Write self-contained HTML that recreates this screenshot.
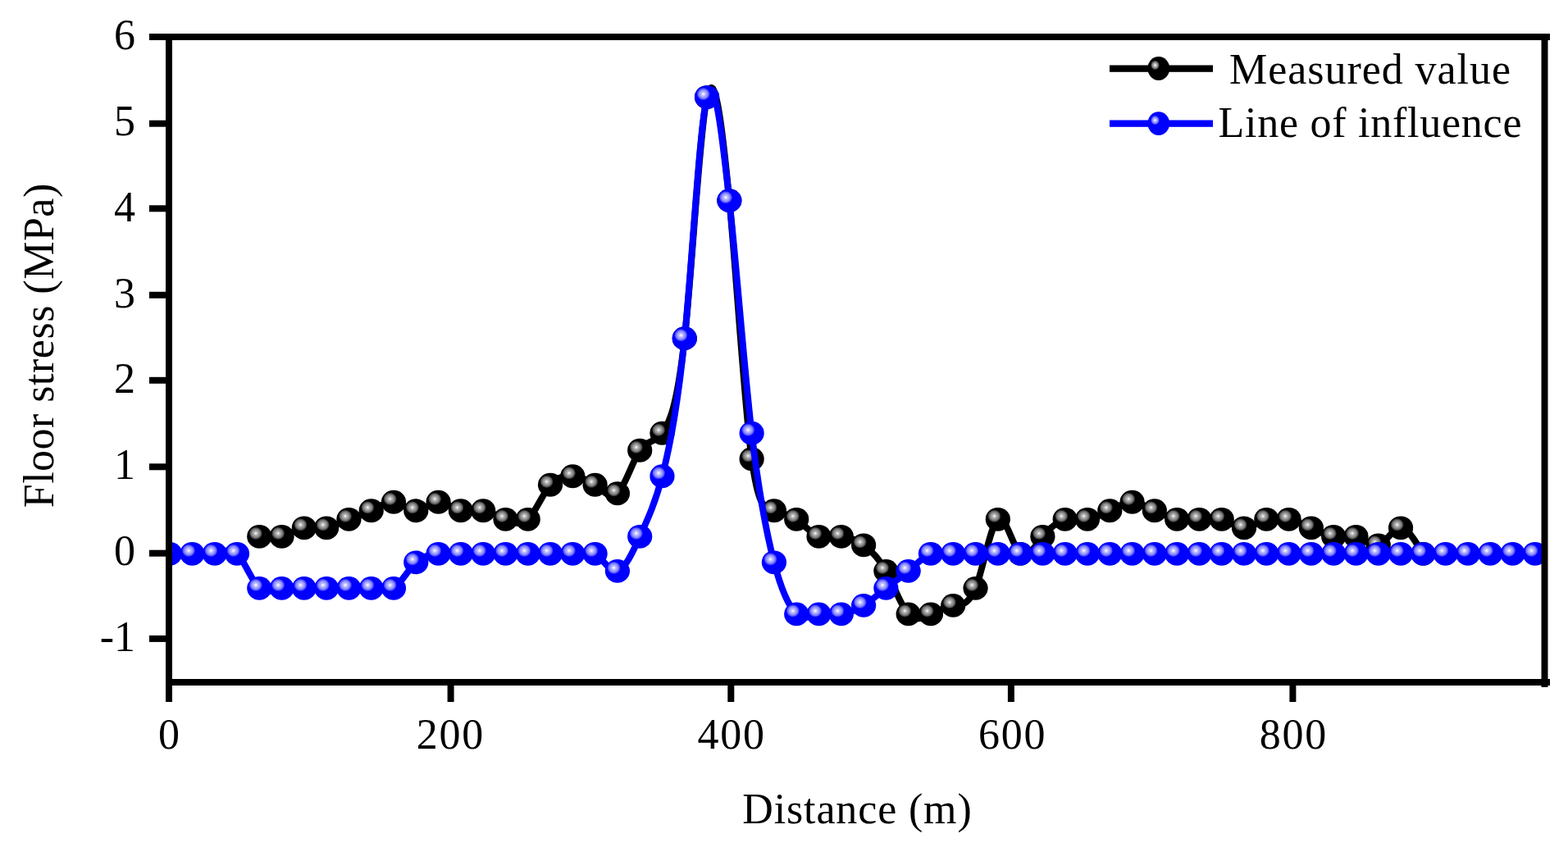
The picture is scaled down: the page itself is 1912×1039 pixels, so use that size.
<!DOCTYPE html>
<html lang="en"><head><meta charset="utf-8"><title>Floor stress vs distance</title>
<style>
html,body{margin:0;padding:0;background:#fff;}
body{width:1912px;height:1039px;overflow:hidden;}
svg{display:block;}
text{font-family:"Liberation Serif","Times New Roman",serif;font-size:52px;fill:#000;}
</style></head><body>
<svg width="1912" height="1039" viewBox="0 0 1912 1039">
<defs>
<radialGradient id="gk" cx="0.355" cy="0.365" r="0.27" gradientUnits="objectBoundingBox">
<stop offset="0" stop-color="#fff"/><stop offset="0.13" stop-color="#dcdcdc"/><stop offset="0.3" stop-color="#b0b0b0"/><stop offset="0.55" stop-color="#8e8e8e"/><stop offset="0.8" stop-color="#5a5a5a"/><stop offset="1" stop-color="#000"/>
</radialGradient>
<radialGradient id="gb" cx="0.355" cy="0.365" r="0.27" gradientUnits="objectBoundingBox">
<stop offset="0" stop-color="#fff"/><stop offset="0.13" stop-color="#e8e8ff"/><stop offset="0.3" stop-color="#bcbcff"/><stop offset="0.55" stop-color="#9a9aff"/><stop offset="0.8" stop-color="#6060ff"/><stop offset="1" stop-color="#00f"/>
</radialGradient>
<radialGradient id="gk2" cx="0.34" cy="0.36" r="0.2" gradientUnits="objectBoundingBox">
<stop offset="0" stop-color="#fff"/><stop offset="0.25" stop-color="#c8c8c8"/><stop offset="0.6" stop-color="#8a8a8a"/><stop offset="0.85" stop-color="#4a4a4a"/><stop offset="1" stop-color="#000"/>
</radialGradient>
<radialGradient id="gb2" cx="0.34" cy="0.36" r="0.2" gradientUnits="objectBoundingBox">
<stop offset="0" stop-color="#fff"/><stop offset="0.25" stop-color="#c8c8ff"/><stop offset="0.6" stop-color="#8a8afa"/><stop offset="0.85" stop-color="#4a4aff"/><stop offset="1" stop-color="#00f"/>
</radialGradient>
<clipPath id="plot"><rect x="206" y="45" width="1677.5" height="787"/></clipPath>
</defs>
<rect width="1912" height="1039" fill="#fff"/>
<g clip-path="url(#plot)">
<path d="M316.26 654.29C325.36 655.17 334.45 656.58 343.55 654.29C352.65 652.00 361.74 645.49 370.84 643.78C379.94 642.08 389.03 645.19 398.13 643.78C407.23 642.38 416.32 636.98 425.42 633.28C434.52 629.58 443.61 627.05 452.71 622.77C461.81 618.50 470.90 611.44 480.00 612.27C489.10 613.10 498.19 622.88 507.29 622.77C516.39 622.67 525.48 612.69 534.58 612.27C543.68 611.85 552.77 620.45 561.87 622.77C570.97 625.10 580.06 621.67 589.16 622.77C598.26 623.88 607.35 629.51 616.45 633.28C625.55 637.05 634.64 641.59 643.74 633.28C652.84 624.97 661.93 601.70 671.03 591.26C680.13 580.82 689.22 580.06 698.32 580.75C707.42 581.45 716.51 585.17 725.61 591.26C734.71 597.35 743.80 610.01 752.90 601.76C762.00 593.52 771.09 562.78 780.19 549.24C789.29 535.70 798.38 540.95 807.48 528.23C816.58 515.51 825.67 495.34 834.77 412.68C843.87 330.01 852.96 159.13 862.06 118.54C871.16 77.94 880.25 149.27 889.35 244.60C898.45 339.92 907.54 492.88 916.64 559.75C925.74 626.61 934.83 619.47 943.93 622.77C953.03 626.08 962.12 626.69 971.22 633.28C980.32 639.87 989.41 650.85 998.51 654.29C1007.61 657.73 1016.70 653.61 1025.80 654.29C1034.90 654.97 1043.99 658.34 1053.09 664.80C1062.19 671.25 1071.28 680.27 1080.38 696.31C1089.48 712.35 1098.57 739.10 1107.67 748.84C1116.77 758.57 1125.86 752.89 1134.96 748.84C1144.06 744.78 1153.15 740.27 1162.25 738.33C1171.35 736.39 1180.44 739.65 1189.54 717.32C1198.64 694.99 1207.73 640.24 1216.83 633.28C1225.93 626.32 1235.02 667.16 1244.12 675.30C1253.22 683.44 1262.31 665.19 1271.41 654.29C1280.51 643.39 1289.60 635.65 1298.70 633.28C1307.80 630.91 1316.89 634.43 1325.99 633.28C1335.09 632.13 1344.18 627.36 1353.28 622.77C1362.38 618.19 1371.47 612.23 1380.57 612.27C1389.67 612.31 1398.76 618.36 1407.86 622.77C1416.96 627.19 1426.05 631.56 1435.15 633.28C1444.25 635.00 1453.34 634.09 1462.44 633.28C1471.54 632.47 1480.63 630.73 1489.73 633.28C1498.83 635.83 1507.92 643.73 1517.02 643.78C1526.12 643.84 1535.21 636.06 1544.31 633.28C1553.41 630.50 1562.50 631.14 1571.60 633.28C1580.70 635.42 1589.79 639.58 1598.89 643.78C1607.99 647.99 1617.08 653.29 1626.18 654.29C1635.28 655.29 1644.37 651.47 1653.47 654.29C1662.57 657.11 1671.66 667.64 1680.76 664.80C1689.86 661.95 1698.95 643.65 1708.05 643.78C1717.15 643.92 1726.24 660.92 1735.34 675.30" fill="none" stroke="#000" stroke-width="8" stroke-linejoin="round"/>
<ellipse cx="316.26" cy="654.29" rx="15.1" ry="14.4" fill="url(#gk)"/>
<ellipse cx="343.55" cy="654.29" rx="15.1" ry="14.4" fill="url(#gk)"/>
<ellipse cx="370.84" cy="643.78" rx="15.1" ry="14.4" fill="url(#gk)"/>
<ellipse cx="398.13" cy="643.78" rx="15.1" ry="14.4" fill="url(#gk)"/>
<ellipse cx="425.42" cy="633.28" rx="15.1" ry="14.4" fill="url(#gk)"/>
<ellipse cx="452.71" cy="622.77" rx="15.1" ry="14.4" fill="url(#gk)"/>
<ellipse cx="480.00" cy="612.27" rx="15.1" ry="14.4" fill="url(#gk)"/>
<ellipse cx="507.29" cy="622.77" rx="15.1" ry="14.4" fill="url(#gk)"/>
<ellipse cx="534.58" cy="612.27" rx="15.1" ry="14.4" fill="url(#gk)"/>
<ellipse cx="561.87" cy="622.77" rx="15.1" ry="14.4" fill="url(#gk)"/>
<ellipse cx="589.16" cy="622.77" rx="15.1" ry="14.4" fill="url(#gk)"/>
<ellipse cx="616.45" cy="633.28" rx="15.1" ry="14.4" fill="url(#gk)"/>
<ellipse cx="643.74" cy="633.28" rx="15.1" ry="14.4" fill="url(#gk)"/>
<ellipse cx="671.03" cy="591.26" rx="15.1" ry="14.4" fill="url(#gk)"/>
<ellipse cx="698.32" cy="580.75" rx="15.1" ry="14.4" fill="url(#gk)"/>
<ellipse cx="725.61" cy="591.26" rx="15.1" ry="14.4" fill="url(#gk)"/>
<ellipse cx="752.90" cy="601.76" rx="15.1" ry="14.4" fill="url(#gk)"/>
<ellipse cx="780.19" cy="549.24" rx="15.1" ry="14.4" fill="url(#gk)"/>
<ellipse cx="807.48" cy="528.23" rx="15.1" ry="14.4" fill="url(#gk)"/>
<ellipse cx="834.77" cy="412.68" rx="15.1" ry="14.4" fill="url(#gk)"/>
<ellipse cx="862.06" cy="118.54" rx="15.1" ry="14.4" fill="url(#gk)"/>
<ellipse cx="889.35" cy="244.60" rx="15.1" ry="14.4" fill="url(#gk)"/>
<ellipse cx="916.64" cy="559.75" rx="15.1" ry="14.4" fill="url(#gk)"/>
<ellipse cx="943.93" cy="622.77" rx="15.1" ry="14.4" fill="url(#gk)"/>
<ellipse cx="971.22" cy="633.28" rx="15.1" ry="14.4" fill="url(#gk)"/>
<ellipse cx="998.51" cy="654.29" rx="15.1" ry="14.4" fill="url(#gk)"/>
<ellipse cx="1025.80" cy="654.29" rx="15.1" ry="14.4" fill="url(#gk)"/>
<ellipse cx="1053.09" cy="664.80" rx="15.1" ry="14.4" fill="url(#gk)"/>
<ellipse cx="1080.38" cy="696.31" rx="15.1" ry="14.4" fill="url(#gk)"/>
<ellipse cx="1107.67" cy="748.84" rx="15.1" ry="14.4" fill="url(#gk)"/>
<ellipse cx="1134.96" cy="748.84" rx="15.1" ry="14.4" fill="url(#gk)"/>
<ellipse cx="1162.25" cy="738.33" rx="15.1" ry="14.4" fill="url(#gk)"/>
<ellipse cx="1189.54" cy="717.32" rx="15.1" ry="14.4" fill="url(#gk)"/>
<ellipse cx="1216.83" cy="633.28" rx="15.1" ry="14.4" fill="url(#gk)"/>
<ellipse cx="1244.12" cy="675.30" rx="15.1" ry="14.4" fill="url(#gk)"/>
<ellipse cx="1271.41" cy="654.29" rx="15.1" ry="14.4" fill="url(#gk)"/>
<ellipse cx="1298.70" cy="633.28" rx="15.1" ry="14.4" fill="url(#gk)"/>
<ellipse cx="1325.99" cy="633.28" rx="15.1" ry="14.4" fill="url(#gk)"/>
<ellipse cx="1353.28" cy="622.77" rx="15.1" ry="14.4" fill="url(#gk)"/>
<ellipse cx="1380.57" cy="612.27" rx="15.1" ry="14.4" fill="url(#gk)"/>
<ellipse cx="1407.86" cy="622.77" rx="15.1" ry="14.4" fill="url(#gk)"/>
<ellipse cx="1435.15" cy="633.28" rx="15.1" ry="14.4" fill="url(#gk)"/>
<ellipse cx="1462.44" cy="633.28" rx="15.1" ry="14.4" fill="url(#gk)"/>
<ellipse cx="1489.73" cy="633.28" rx="15.1" ry="14.4" fill="url(#gk)"/>
<ellipse cx="1517.02" cy="643.78" rx="15.1" ry="14.4" fill="url(#gk)"/>
<ellipse cx="1544.31" cy="633.28" rx="15.1" ry="14.4" fill="url(#gk)"/>
<ellipse cx="1571.60" cy="633.28" rx="15.1" ry="14.4" fill="url(#gk)"/>
<ellipse cx="1598.89" cy="643.78" rx="15.1" ry="14.4" fill="url(#gk)"/>
<ellipse cx="1626.18" cy="654.29" rx="15.1" ry="14.4" fill="url(#gk)"/>
<ellipse cx="1653.47" cy="654.29" rx="15.1" ry="14.4" fill="url(#gk)"/>
<ellipse cx="1680.76" cy="664.80" rx="15.1" ry="14.4" fill="url(#gk)"/>
<ellipse cx="1708.05" cy="643.78" rx="15.1" ry="14.4" fill="url(#gk)"/>
<ellipse cx="1735.34" cy="675.30" rx="15.1" ry="14.4" fill="url(#gk)"/>
<path d="M207.10 675.30C216.20 675.09 225.29 674.89 234.39 675.30C243.49 675.71 252.58 676.74 261.68 675.30C270.78 673.86 279.87 667.17 288.97 675.30C298.07 683.43 307.16 709.19 316.26 717.32C325.36 725.45 334.45 718.74 343.55 717.32C352.65 715.90 361.74 716.96 370.84 717.32C379.94 717.68 389.03 717.35 398.13 717.32C407.23 717.29 416.32 717.55 425.42 717.32C434.52 717.09 443.61 716.35 452.71 717.32C461.81 718.29 470.90 723.06 480.00 717.32C489.10 711.58 498.19 693.93 507.29 685.80C516.39 677.68 525.48 676.26 534.58 675.30C543.68 674.34 552.77 675.23 561.87 675.30C570.97 675.37 580.06 675.32 589.16 675.30C598.26 675.28 607.35 675.28 616.45 675.30C625.55 675.32 634.64 675.37 643.74 675.30C652.84 675.23 661.93 675.04 671.03 675.30C680.13 675.56 689.22 676.27 698.32 675.30C707.42 674.33 716.51 670.27 725.61 675.30C734.71 680.33 743.80 698.65 752.90 696.31C762.00 693.97 771.09 674.47 780.19 654.29C789.29 634.11 798.38 615.34 807.48 580.75C816.58 546.17 825.67 502.08 834.77 412.68C843.87 323.27 852.96 154.25 862.06 118.54C871.16 82.82 880.25 161.50 889.35 244.60C898.45 327.69 907.54 451.61 916.64 528.23C925.74 604.85 934.83 650.98 943.93 685.80C953.03 720.63 962.12 739.94 971.22 748.84C980.32 757.73 989.41 749.90 998.51 748.84C1007.61 747.77 1016.70 749.95 1025.80 748.84C1034.90 747.72 1043.99 744.00 1053.09 738.33C1062.19 732.66 1071.28 724.35 1080.38 717.32C1089.48 710.29 1098.57 703.83 1107.67 696.31C1116.77 688.79 1125.86 678.81 1134.96 675.30C1144.06 671.79 1153.15 674.73 1162.25 675.30C1171.35 675.87 1180.44 675.45 1189.54 675.30C1198.64 675.15 1207.73 675.26 1216.83 675.30C1225.93 675.34 1235.02 675.31 1244.12 675.30C1253.22 675.29 1262.31 675.30 1271.41 675.30C1280.51 675.30 1289.60 675.30 1298.70 675.30C1307.80 675.30 1316.89 675.30 1325.99 675.30C1335.09 675.30 1344.18 675.30 1353.28 675.30C1362.38 675.30 1371.47 675.30 1380.57 675.30C1389.67 675.30 1398.76 675.30 1407.86 675.30C1416.96 675.30 1426.05 675.30 1435.15 675.30C1444.25 675.30 1453.34 675.30 1462.44 675.30C1471.54 675.30 1480.63 675.30 1489.73 675.30C1498.83 675.30 1507.92 675.30 1517.02 675.30C1526.12 675.30 1535.21 675.30 1544.31 675.30C1553.41 675.30 1562.50 675.30 1571.60 675.30C1580.70 675.30 1589.79 675.30 1598.89 675.30C1607.99 675.30 1617.08 675.30 1626.18 675.30C1635.28 675.30 1644.37 675.30 1653.47 675.30C1662.57 675.30 1671.66 675.30 1680.76 675.30C1689.86 675.30 1698.95 675.30 1708.05 675.30C1717.15 675.30 1726.24 675.30 1735.34 675.30C1744.44 675.30 1753.53 675.30 1762.63 675.30C1771.73 675.30 1780.82 675.30 1789.92 675.30C1799.02 675.30 1808.11 675.30 1817.21 675.30C1826.31 675.30 1835.40 675.30 1844.50 675.30C1853.60 675.30 1862.69 675.30 1871.79 675.30" fill="none" stroke="#00f" stroke-width="8" stroke-linejoin="round"/>
<ellipse cx="207.10" cy="675.30" rx="15.1" ry="14.4" fill="url(#gb)"/>
<ellipse cx="234.39" cy="675.30" rx="15.1" ry="14.4" fill="url(#gb)"/>
<ellipse cx="261.68" cy="675.30" rx="15.1" ry="14.4" fill="url(#gb)"/>
<ellipse cx="288.97" cy="675.30" rx="15.1" ry="14.4" fill="url(#gb)"/>
<ellipse cx="316.26" cy="717.32" rx="15.1" ry="14.4" fill="url(#gb)"/>
<ellipse cx="343.55" cy="717.32" rx="15.1" ry="14.4" fill="url(#gb)"/>
<ellipse cx="370.84" cy="717.32" rx="15.1" ry="14.4" fill="url(#gb)"/>
<ellipse cx="398.13" cy="717.32" rx="15.1" ry="14.4" fill="url(#gb)"/>
<ellipse cx="425.42" cy="717.32" rx="15.1" ry="14.4" fill="url(#gb)"/>
<ellipse cx="452.71" cy="717.32" rx="15.1" ry="14.4" fill="url(#gb)"/>
<ellipse cx="480.00" cy="717.32" rx="15.1" ry="14.4" fill="url(#gb)"/>
<ellipse cx="507.29" cy="685.80" rx="15.1" ry="14.4" fill="url(#gb)"/>
<ellipse cx="534.58" cy="675.30" rx="15.1" ry="14.4" fill="url(#gb)"/>
<ellipse cx="561.87" cy="675.30" rx="15.1" ry="14.4" fill="url(#gb)"/>
<ellipse cx="589.16" cy="675.30" rx="15.1" ry="14.4" fill="url(#gb)"/>
<ellipse cx="616.45" cy="675.30" rx="15.1" ry="14.4" fill="url(#gb)"/>
<ellipse cx="643.74" cy="675.30" rx="15.1" ry="14.4" fill="url(#gb)"/>
<ellipse cx="671.03" cy="675.30" rx="15.1" ry="14.4" fill="url(#gb)"/>
<ellipse cx="698.32" cy="675.30" rx="15.1" ry="14.4" fill="url(#gb)"/>
<ellipse cx="725.61" cy="675.30" rx="15.1" ry="14.4" fill="url(#gb)"/>
<ellipse cx="752.90" cy="696.31" rx="15.1" ry="14.4" fill="url(#gb)"/>
<ellipse cx="780.19" cy="654.29" rx="15.1" ry="14.4" fill="url(#gb)"/>
<ellipse cx="807.48" cy="580.75" rx="15.1" ry="14.4" fill="url(#gb)"/>
<ellipse cx="834.77" cy="412.68" rx="15.1" ry="14.4" fill="url(#gb)"/>
<ellipse cx="862.06" cy="118.54" rx="15.1" ry="14.4" fill="url(#gb)"/>
<ellipse cx="889.35" cy="244.60" rx="15.1" ry="14.4" fill="url(#gb)"/>
<ellipse cx="916.64" cy="528.23" rx="15.1" ry="14.4" fill="url(#gb)"/>
<ellipse cx="943.93" cy="685.80" rx="15.1" ry="14.4" fill="url(#gb)"/>
<ellipse cx="971.22" cy="748.84" rx="15.1" ry="14.4" fill="url(#gb)"/>
<ellipse cx="998.51" cy="748.84" rx="15.1" ry="14.4" fill="url(#gb)"/>
<ellipse cx="1025.80" cy="748.84" rx="15.1" ry="14.4" fill="url(#gb)"/>
<ellipse cx="1053.09" cy="738.33" rx="15.1" ry="14.4" fill="url(#gb)"/>
<ellipse cx="1080.38" cy="717.32" rx="15.1" ry="14.4" fill="url(#gb)"/>
<ellipse cx="1107.67" cy="696.31" rx="15.1" ry="14.4" fill="url(#gb)"/>
<ellipse cx="1134.96" cy="675.30" rx="15.1" ry="14.4" fill="url(#gb)"/>
<ellipse cx="1162.25" cy="675.30" rx="15.1" ry="14.4" fill="url(#gb)"/>
<ellipse cx="1189.54" cy="675.30" rx="15.1" ry="14.4" fill="url(#gb)"/>
<ellipse cx="1216.83" cy="675.30" rx="15.1" ry="14.4" fill="url(#gb)"/>
<ellipse cx="1244.12" cy="675.30" rx="15.1" ry="14.4" fill="url(#gb)"/>
<ellipse cx="1271.41" cy="675.30" rx="15.1" ry="14.4" fill="url(#gb)"/>
<ellipse cx="1298.70" cy="675.30" rx="15.1" ry="14.4" fill="url(#gb)"/>
<ellipse cx="1325.99" cy="675.30" rx="15.1" ry="14.4" fill="url(#gb)"/>
<ellipse cx="1353.28" cy="675.30" rx="15.1" ry="14.4" fill="url(#gb)"/>
<ellipse cx="1380.57" cy="675.30" rx="15.1" ry="14.4" fill="url(#gb)"/>
<ellipse cx="1407.86" cy="675.30" rx="15.1" ry="14.4" fill="url(#gb)"/>
<ellipse cx="1435.15" cy="675.30" rx="15.1" ry="14.4" fill="url(#gb)"/>
<ellipse cx="1462.44" cy="675.30" rx="15.1" ry="14.4" fill="url(#gb)"/>
<ellipse cx="1489.73" cy="675.30" rx="15.1" ry="14.4" fill="url(#gb)"/>
<ellipse cx="1517.02" cy="675.30" rx="15.1" ry="14.4" fill="url(#gb)"/>
<ellipse cx="1544.31" cy="675.30" rx="15.1" ry="14.4" fill="url(#gb)"/>
<ellipse cx="1571.60" cy="675.30" rx="15.1" ry="14.4" fill="url(#gb)"/>
<ellipse cx="1598.89" cy="675.30" rx="15.1" ry="14.4" fill="url(#gb)"/>
<ellipse cx="1626.18" cy="675.30" rx="15.1" ry="14.4" fill="url(#gb)"/>
<ellipse cx="1653.47" cy="675.30" rx="15.1" ry="14.4" fill="url(#gb)"/>
<ellipse cx="1680.76" cy="675.30" rx="15.1" ry="14.4" fill="url(#gb)"/>
<ellipse cx="1708.05" cy="675.30" rx="15.1" ry="14.4" fill="url(#gb)"/>
<ellipse cx="1735.34" cy="675.30" rx="15.1" ry="14.4" fill="url(#gb)"/>
<ellipse cx="1762.63" cy="675.30" rx="15.1" ry="14.4" fill="url(#gb)"/>
<ellipse cx="1789.92" cy="675.30" rx="15.1" ry="14.4" fill="url(#gb)"/>
<ellipse cx="1817.21" cy="675.30" rx="15.1" ry="14.4" fill="url(#gb)"/>
<ellipse cx="1844.50" cy="675.30" rx="15.1" ry="14.4" fill="url(#gb)"/>
<ellipse cx="1871.79" cy="675.30" rx="15.1" ry="14.4" fill="url(#gb)"/>
</g>
<g fill="#000">
<rect x="182" y="41" width="1708" height="8"/>
<rect x="202" y="41" width="8" height="815"/>
<rect x="202" y="828" width="1688" height="8"/>
<rect x="1879.5" y="41" width="8" height="797"/>

<rect x="182" y="146.70" width="20" height="8"/>
<rect x="182" y="250.30" width="20" height="8"/>
<rect x="182" y="355.80" width="20" height="8"/>
<rect x="182" y="459.80" width="20" height="8"/>
<rect x="182" y="565.30" width="20" height="8"/>
<rect x="182" y="670.70" width="20" height="8"/>
<rect x="182" y="774.90" width="20" height="8"/>
<rect x="545.60" y="836" width="8" height="20"/>
<rect x="887.30" y="836" width="8" height="20"/>
<rect x="1228.90" y="836" width="8" height="20"/>
<rect x="1572.40" y="836" width="8" height="20"/>
</g>
<g text-anchor="end">
<text x="165" y="60.00">6</text>
<text x="165" y="164.85">5</text>
<text x="165" y="269.70">4</text>
<text x="165" y="374.55">3</text>
<text x="165" y="479.40">2</text>
<text x="165" y="584.25">1</text>
<text x="165" y="689.10">0</text>
<text x="165" y="793.95">-1</text>
</g>
<g text-anchor="middle">
<text x="206.0" y="913">0</text>
<text x="548.6" y="913" textLength="81.5">200</text>
<text x="891.2" y="913" textLength="81.5">400</text>
<text x="1233.8" y="913" textLength="81.5">600</text>
<text x="1576.4" y="913" textLength="81.5">800</text>
<text x="1045" y="1004" textLength="279.5">Distance (m)</text>
<text transform="translate(64.5 421.5) rotate(-90)" textLength="395.5">Floor stress (MPa)</text>
<text x="1670.5" y="101.5" textLength="343">Measured value</text>
<text x="1670.5" y="166.5" textLength="370">Line of influence</text>
</g>
<rect x="1353" y="79.5" width="126" height="8.3" fill="#000"/><ellipse cx="1412.8" cy="83.5" rx="13.4" ry="14.4" fill="url(#gk2)"/>
<rect x="1353" y="146.5" width="126" height="8.3" fill="#00f"/><ellipse cx="1412.8" cy="150.6" rx="13.4" ry="14.4" fill="url(#gb2)"/>
</svg></body></html>
